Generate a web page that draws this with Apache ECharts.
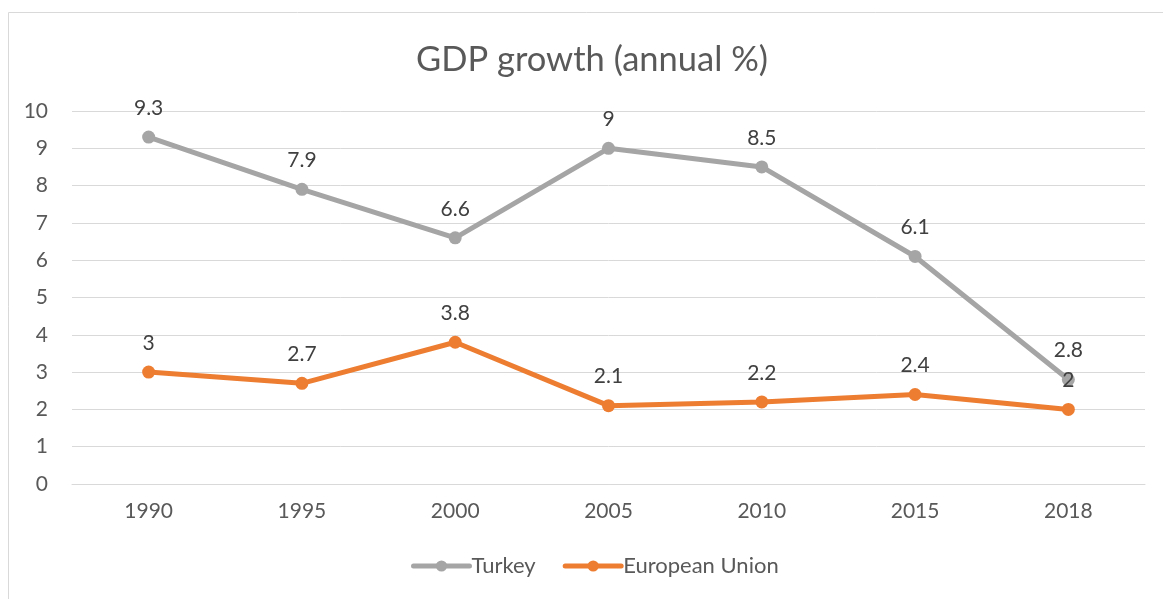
<!DOCTYPE html>
<html><head><meta charset="utf-8">
<script src="https://cdn.jsdelivr.net/npm/echarts@6/dist/echarts.min.js"></script>
<style>html,body{margin:0;padding:0;background:#fff}#c{width:1163px;height:599px}</style>
</head><body><div id="c"></div>
<script>
const categories = ['1990','1995','2000','2005','2010','2015','2018'];
const turkey = [9.3, 7.9, 6.6, 9, 8.5, 6.1, 2.8];
const eu = [3, 2.7, 3.8, 2.1, 2.2, 2.4, 2];
const seriesNames = ['Turkey', 'European Union'];
const titleText = 'GDP growth (annual %)';

const FONT = 'Lato';
const chart = echarts.init(document.getElementById('c'), null, {renderer:'canvas'});
function mk(name, data, color){
  return {
    name, type:'line', data,
    symbol:'circle', symbolSize:13,
    lineStyle:{color, width:5, cap:'round'},
    itemStyle:{color},
    label:{show:true, position:'top', distance:12, color:'#404040', fontFamily:FONT, fontSize:21},
    emphasis:{disabled:true},
    animation:false
  };
}
chart.setOption({
  animation:false,
  backgroundColor:'#fff',
  title:{text:titleText, left:411, top:37, textStyle:{fontFamily:FONT, fontSize:34.5, fontWeight:'normal', color:'#595959'}},
  grid:{left:72, right:18, top:111, bottom:115, containLabel:false},
  xAxis:{type:'category', data:categories, boundaryGap:true,
    axisLine:{show:true, lineStyle:{color:'#D9D9D9', width:1}},
    axisTick:{show:false},
    axisLabel:{color:'#595959', fontFamily:FONT, fontSize:21, margin:17}},
  yAxis:{type:'value', min:0, max:10, interval:1,
    axisLine:{show:false}, axisTick:{show:false},
    splitLine:{lineStyle:{color:'#D9D9D9', width:1}},
    axisLabel:{color:'#595959', fontFamily:FONT, fontSize:21, margin:24}},
  legend:{bottom:17, left:406, itemWidth:56, itemHeight:14, itemGap:27,
    lineStyle:{width:5, cap:'round'},
    textStyle:{color:'#595959', fontFamily:FONT, fontSize:22, padding:[0,0,0,-3]}, data:seriesNames},
  graphic:[{type:'rect', shape:{x:8.5, y:12.5, width:1300, height:800}, style:{fill:null, stroke:'#D9D9D9', lineWidth:1}, silent:true, z:-1}],
  series:[mk(seriesNames[0], turkey, '#A5A5A5'), mk(seriesNames[1], eu, '#ED7D31')]
});
</script></body></html>
